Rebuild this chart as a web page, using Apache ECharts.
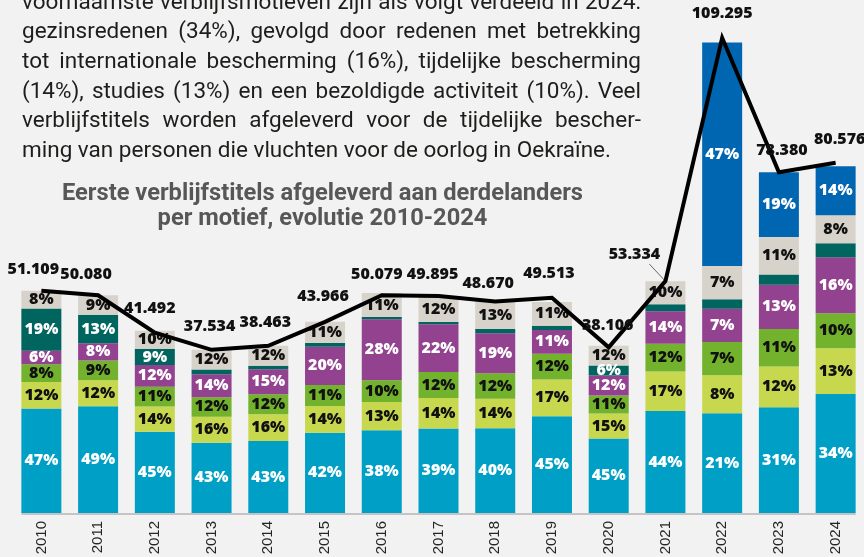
<!DOCTYPE html>
<html>
<head>
<meta charset="utf-8">
<script src="https://cdn.jsdelivr.net/npm/echarts@6/dist/echarts.min.js"></script>
<style>
  html, body { margin: 0; padding: 0; background: #f2f2f2; }
  #chart { width: 864px; height: 557px; }
</style>
</head>
<body>
<div id="chart"></div>
<script>
// ---- Data -------------------------------------------------------------
const years = ['2010', '2011', '2012', '2013', '2014', '2015', '2016', '2017',
               '2018', '2019', '2020', '2021', '2022', '2023', '2024'];

// Total number of first residence permits per year
const totals = [51109, 50080, 41492, 37534, 38463, 43966, 50079, 49895,
                48670, 49513, 38106, 53334, 109295, 78380, 80576];

// Share of each motive (%), stacked bottom to top
const pctGezin       = [47, 49, 45, 43, 43, 42, 38, 39, 40, 45, 45, 44, 21, 31, 34];
const pctStudies     = [12, 12, 14, 16, 16, 14, 13, 14, 14, 17, 15, 17,  8, 12, 13];
const pctWerk        = [ 8,  9, 11, 12, 12, 11, 10, 12, 12, 12, 11, 12,  7, 11, 10];
const pctIntBesch    = [ 6,  8, 12, 14, 15, 20, 28, 22, 19, 11, 12, 14,  7, 13, 16];
const pctHumanitair  = [19, 13,  9,  3,  2,  2,  1,  1,  2,  2,  6,  3,  2,  3,  4];
const pctAndere      = [ 8,  9, 10, 12, 12, 11, 11, 12, 13, 11, 12, 10,  7, 11,  8];
const pctTijdelijk   = [ 0,  0,  0,  0,  0,  0,  0,  0,  0,  0,  0,  0, 47, 19, 14];

const paragraph = [
  'voornaamste verblijfsmotieven zijn als volgt verdeeld in 2024:',
  'gezinsredenen (34%), gevolgd door redenen met betrekking',
  'tot internationale bescherming (16%), tijdelijke bescherming',
  '(14%), studies (13%) en een bezoldigde activiteit (10%). Veel',
  'verblijfstitels worden afgeleverd voor de tijdelijke bescher-',
  'ming van personen die vluchten voor de oorlog in Oekraïne.'
];
const titleLines = [
  'Eerste verblijfstitels afgeleverd aan derdelanders',
  'per motief, evolutie 2010-2024'
];

// ---- Styling ------------------------------------------------------------
const motives = [
  { name: 'Gezinsredenen',              pct: pctGezin,      color: '#009fc5', text: '#ffffff' },
  { name: 'Studies',                    pct: pctStudies,    color: '#c8d84e', text: '#111111' },
  { name: 'Bezoldigde activiteit',      pct: pctWerk,       color: '#73b22c', text: '#111111' },
  { name: 'Internationale bescherming', pct: pctIntBesch,   color: '#93428f', text: '#ffffff' },
  { name: 'Humanitaire redenen',        pct: pctHumanitair, color: '#00655f', text: '#ffffff' },
  { name: 'Andere',                     pct: pctAndere,     color: '#d7d2ca', text: '#111111' },
  { name: 'Tijdelijke bescherming',     pct: pctTijdelijk,  color: '#0066b2', text: '#ffffff' }
];

// Offsets of the total labels relative to their line point
const totalLabelOffsets = [[-8, -21], [-12, -21], [-5, -24], [-2, -23], [-3, -23],
  [-2, -25], [-5, -21], [-6, -22], [-7, -18], [-3, -24], [-1, -22], [-31, -27],
  [0, -24], [3, -22], [4, -23]];

const LABEL_FONT = 'Open Sans';
const TEXT_FONT = 'Roboto';

function formatNL(v) {
  return String(v).replace(/\B(?=(\d{3})+(?!\d))/g, '.');
}

// ---- Paragraph layout (justified) --------------------------------------
const measureCtx = document.createElement('canvas').getContext('2d');
function textWidth(s, size, weight) {
  measureCtx.font = (weight || 'normal') + ' ' + size + 'px ' + TEXT_FONT;
  return measureCtx.measureText(s).width;
}
const paraLeft = 22, paraRight = 641, lastLineRight = 611;
const paraSize = 100 * (lastLineRight - paraLeft) / textWidth(paragraph[paragraph.length - 1], 100);
const paraFont = 'normal ' + paraSize.toFixed(2) + 'px ' + TEXT_FONT;
const graphics = [];
paragraph.forEach(function (line, k) {
  const baseline = 10 + 29.6 * k;
  const y = baseline - 0.3 * paraSize;
  const words = line.split(' ');
  const isLast = k === paragraph.length - 1;
  const widths = words.map(function (w) { return textWidth(w, paraSize); });
  const sum = widths.reduce(function (a, b) { return a + b; }, 0);
  const gap = isLast ? textWidth(' ', paraSize) : (paraRight - paraLeft - sum) / (words.length - 1);
  let x = paraLeft;
  words.forEach(function (w, i) {
    graphics.push({
      type: 'text', silent: true,
      style: { text: w, x: x, y: y, font: paraFont, fill: '#1d1d1b',
               textAlign: 'left', textVerticalAlign: 'middle' }
    });
    x += widths[i] + gap;
  });
});
const titleSize = 100 * 521 / textWidth(titleLines[0], 100, 'bold');
titleLines.forEach(function (line, k) {
  const baseline = 201.5 + 25 * k;
  graphics.push({
    type: 'text', silent: true,
    style: { text: line, x: 322.5, y: baseline - 0.3 * titleSize,
             font: 'bold ' + titleSize.toFixed(2) + 'px ' + TEXT_FONT, fill: '#575757',
             textAlign: 'center', textVerticalAlign: 'middle' }
  });
});

// ---- Series ---------------------------------------------------------------
const barSeries = motives.map(function (m) {
  return {
    name: m.name,
    type: 'bar',
    stack: 'motief',
    barWidth: 40,
    itemStyle: { color: m.color },
    emphasis: { disabled: true },
    data: totals.map(function (t, i) { return t * m.pct[i] / 100; }),
    label: {
      show: true,
      position: 'inside',
      color: m.text,
      fontFamily: LABEL_FONT,
      fontWeight: 800,
      fontSize: 16,
      formatter: function (p) {
        const v = m.pct[p.dataIndex];
        return v >= 5 ? v + '%' : '';
      }
    }
  };
});

const lineSeries = {
  name: 'Totaal',
  type: 'line',
  z: 10,
  symbol: 'circle',
  symbolSize: 2,
  itemStyle: { color: 'rgba(0,0,0,0)' },
  lineStyle: { color: '#000000', width: 4, join: 'miter' },
  emphasis: { disabled: true },
  data: totals.map(function (t, i) {
    return { value: t, label: { offset: totalLabelOffsets[i] } };
  }),
  label: {
    show: true,
    position: 'inside',
    color: '#111111',
    fontFamily: LABEL_FONT,
    fontWeight: 800,
    fontSize: 16,
    formatter: function (p) { return formatNL(p.value); }
  }
};

const chart = echarts.init(document.getElementById('chart'), null, { renderer: 'canvas' });
chart.setOption({
  animation: false,
  backgroundColor: '#f2f2f2',
  grid: { left: 13, right: 0, top: 0, bottom: 44, containLabel: false, outerBoundsMode: 'none' },
  xAxis: {
    type: 'category',
    data: years,
    boundaryGap: true,
    axisLine: { show: false },
    axisTick: { show: false },
    axisLabel: {
      rotate: 90,
      margin: 8,
      color: '#262626',
      fontFamily: 'Liberation Sans',
      fontSize: 15,
      hideOverlap: false
    }
  },
  yAxis: { type: 'value', min: 0, max: 118000, show: false },
  series: barSeries.concat([lineSeries]),
  graphic: graphics
});

// Axis base line spanning the bars, and the guide line of the 2021 total
const first = chart.convertToPixel({ xAxisIndex: 0, yAxisIndex: 0 }, [0, 0]);
const last = chart.convertToPixel({ xAxisIndex: 0, yAxisIndex: 0 }, [years.length - 1, 0]);
const p2021 = chart.convertToPixel({ xAxisIndex: 0, yAxisIndex: 0 }, [11, totals[11]]);
chart.setOption({
  graphic: graphics.concat([
    {
      type: 'line', silent: true, z: 5,
      shape: { x1: first[0] - 20, y1: first[1] + 1, x2: last[0] + 20, y2: last[1] + 1 },
      style: { stroke: '#c4c4c4', lineWidth: 2 }
    },
    {
      type: 'line', silent: true, z: 5,
      shape: { x1: p2021[0] - 16, y1: p2021[1] - 17, x2: p2021[0] - 1, y2: p2021[1] - 1 },
      style: { stroke: '#666666', lineWidth: 1 }
    }
  ])
}, { replaceMerge: ['graphic'] });
</script>
</body>
</html>
